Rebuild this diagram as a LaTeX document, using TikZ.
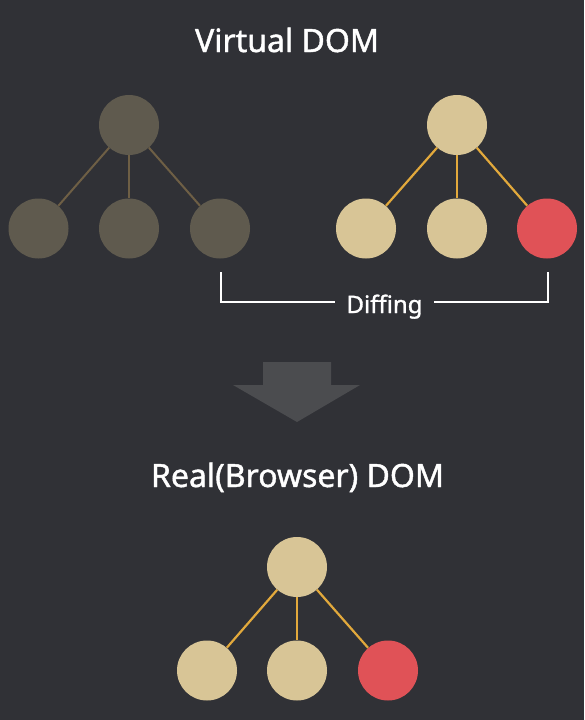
\documentclass[tikz,border=0pt]{standalone}
\usepackage{fontspec}
\setmainfont{Noto Sans}
\newfontfamily\semib[FakeBold=1.3]{Noto Sans}
\definecolor{bg}{HTML}{303136}
\definecolor{dimnode}{HTML}{5F5A4E}
\definecolor{dimline}{HTML}{6E5F45}
\definecolor{litnode}{HTML}{D8C596}
\definecolor{litline}{HTML}{E2A93C}
\definecolor{rednode}{HTML}{E05257}
\definecolor{arrowc}{HTML}{4B4C4F}
\tikzset{
  dimc/.style={circle, fill=dimnode, minimum size=60pt, inner sep=0pt},
  litc/.style={circle, fill=litnode, minimum size=60pt, inner sep=0pt},
  redc/.style={circle, fill=rednode, minimum size=60pt, inner sep=0pt},
  dimedge/.style={draw=dimline, line width=2pt},
  litedge/.style={draw=litline, line width=2.2pt},
  title/.style={text=white, font=\semib\fontsize{32}{36}\selectfont},
  bracket/.style={draw=white, line width=1.6pt},
}
\begin{document}
\begin{tikzpicture}[x=1pt, y=-1pt]
\fill[bg] (0,0) rectangle (584,720);
\useasboundingbox (0,0) rectangle (584,720);

\node[title, anchor=base] (t1) at (287,52) {Virtual DOM};

% left tree
\node[dimc] (l0) at (129,125) {};
\node[dimc] (l1) at (38.5,228.5) {};
\node[dimc] (l2) at (129,228.5) {};
\node[dimc] (l3) at (220,228.5) {};
\draw[dimedge] (l0) -- (l1);
\draw[dimedge] (l0) -- (l2);
\draw[dimedge] (l0) -- (l3);

% right tree
\node[litc] (r0) at (457,125) {};
\node[litc] (r1) at (366,228.5) {};
\node[litc] (r2) at (457,228.5) {};
\node[redc] (r3) at (547,228.5) {};
\draw[litedge] (r0) -- (r1);
\draw[litedge] (r0) -- (r2);
\draw[litedge] (r0) -- (r3);

% diffing bracket
\node[text=white, font=\semib\fontsize{24}{28}\selectfont, anchor=base] (diff) at (384.5,313) {Diffing};
\coordinate (bl) at (221,272);
\coordinate (br) at (548,272);
\draw[bracket] (bl) |- ([xshift=-8pt]diff.west |- 0,302);
\draw[bracket] (br) |- ([xshift=8pt]diff.east |- 0,302);

% big arrow
\fill[arrowc] (263,362) -- (331,362) -- (331,385) -- (360,385) -- (297,422) -- (233,385) -- (263,385) -- cycle;

\node[title, anchor=base] (t2) at (297.5,487) {Real(Browser) DOM};

% bottom tree
\node[litc] (b0) at (297,567) {};
\node[litc] (b1) at (207,670.5) {};
\node[litc] (b2) at (297,670.5) {};
\node[redc] (b3) at (388,670.5) {};
\draw[litedge] (b0) -- (b1);
\draw[litedge] (b0) -- (b2);
\draw[litedge] (b0) -- (b3);
\end{tikzpicture}
\end{document}
